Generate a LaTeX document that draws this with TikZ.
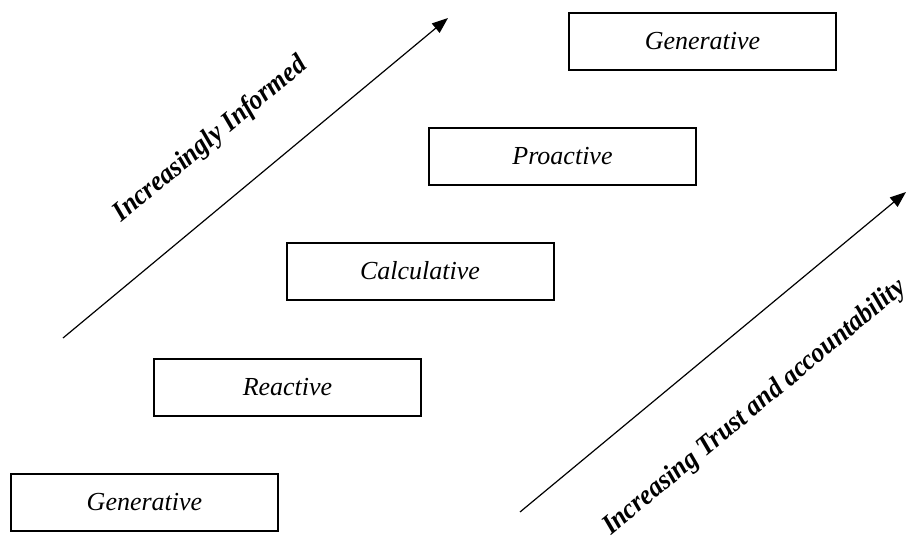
\documentclass[tikz,border=0pt]{standalone}
\usepackage{fontspec}
\setmainfont{Liberation Serif}
\newfontfamily\trendfont[FakeStretch=0.93]{Liberation Serif}
\usetikzlibrary{arrows.meta}
\begin{document}
\begin{tikzpicture}[x=1pt,y=-1pt,
  stage/.style={draw, line width=2pt, minimum width=267pt, minimum height=57pt,
    inner sep=0pt, font=\fontsize{26}{30}\selectfont\itshape},
  trend/.style={line width=1.2pt, -{Triangle[length=16pt,width=12pt]}},
  trendlabel/.style={font=\trendfont\fontsize{28}{32}\selectfont\bfseries\itshape,
    rotate=39.7, anchor=base, inner sep=0pt}]
\useasboundingbox (0,0) rectangle (911,541);

% stages, stepping up to the right
\node[stage] (gen1) at (144.5,502.5) {Generative};
\node[stage] (react) at (287.5,387) {Reactive};
\node[stage] (calc) at (420,271) {Calculative};
\node[stage] (proact) at (562.5,156.5) {Proactive};
\node[stage] (gen2) at (702.5,41) {Generative};

% upper-left trend arrow
\coordinate (infoS) at (63,338);
\coordinate (infoE) at (448,18);
\draw[trend] (infoS) -- (infoE);
\node[trendlabel] (infoL) at (215,145) {Increasingly Informed};

% lower-right trend arrow
\coordinate (trustS) at (520,512);
\coordinate (trustE) at (906,192);
\draw[trend] (trustS) -- (trustE);
\node[trendlabel] (trustL) at (759,413) {Increasing Trust and accountability};
\end{tikzpicture}
\end{document}
